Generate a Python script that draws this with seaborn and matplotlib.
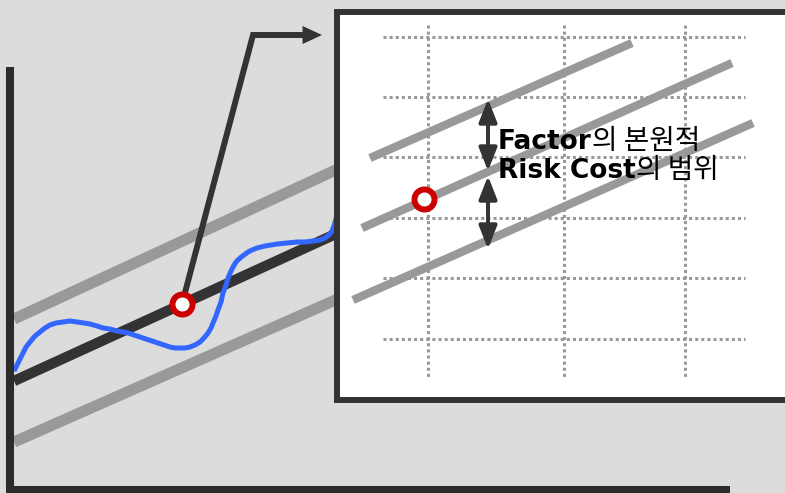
import matplotlib
matplotlib.use('Agg')
import matplotlib.pyplot as plt
from matplotlib.patches import Rectangle
import seaborn as sns
import pandas as pd
import numpy as np

sns.set_style("white")
plt.rcParams['font.family'] = ['DejaVu Sans', 'Noto Sans CJK KR']

# picture is laid out in pixel units, y going down
W, H = 785, 493
dark = '#333333'
gray = '#999999'
red = '#cc0000'
blue = '#3366ff'

blue_x = [14, 17, 20, 23, 26, 30, 35, 40, 45, 50, 56, 63, 70, 77, 84, 90, 97, 103, 110,
          117, 123, 128, 134, 140, 146, 152, 158, 164, 170, 175, 180, 185, 190, 195, 200,
          204, 208, 211, 213, 216, 218, 221, 223, 226, 228, 231, 233, 236, 240, 244, 248,
          252, 257, 265, 277, 287, 297, 305, 313, 320, 325, 329, 332, 334, 337]
blue_y = [371, 365, 359, 353, 347, 342, 336, 332, 328, 325, 323, 322, 321, 322, 323, 324, 326, 328, 329,
          331, 332, 333, 335, 337, 339, 341, 343, 345, 347, 348, 348, 348, 347, 345, 342,
          338, 333, 328, 323, 316, 310, 302, 293, 285, 278, 271, 267, 262, 258, 255, 252,
          250, 248, 246, 244, 243, 242, 242, 241, 240, 238, 235, 231, 226, 215]

# straight trend lines in the main panel: (x0, y0, x1, y1)
main_upper = (14, 319, 340, 168)
main_mid = (14, 381, 340, 232)
main_lower = (14, 442, 340, 298)
main_point = (182, 304)

# pointer from the point to the zoom box
pointer_x = [182, 253, 306]
pointer_y = [304, 35, 35]

# zoom box contents
zoom_upper = (370, 158, 632, 43)
zoom_mid = (362, 228, 732, 63)
zoom_lower = (353, 300, 753, 123)
zoom_point = (424, 199)
grid_rows = [37, 97, 157, 218, 278, 339]
grid_cols = [428, 564, 685]
arrow_x = 488
arrow_spans = [(99, 171), (176, 249)]

label_lines = [('Factor', '의 본원적', 149), ('Risk Cost', '의 범위', 178)]

fig = plt.figure(figsize=(W / 100, H / 100), dpi=100)
fig.patch.set_facecolor('#dcdcdc')
ax = fig.add_axes([0, 0, 1, 1])
ax.set_facecolor('#dcdcdc')

# main panel lines
for seg in (main_upper, main_lower):
    ax.plot([seg[0], seg[2]], [seg[1], seg[3]], color=gray, lw=8, solid_capstyle='butt', zorder=2)
ax.plot([main_mid[0], main_mid[2]], [main_mid[1], main_mid[3]], color=dark, lw=7.5,
        solid_capstyle='butt', zorder=3)

df = pd.DataFrame({'x': blue_x, 'y': blue_y})
sns.lineplot(data=df, x='x', y='y', sort=False, estimator=None, color=blue, lw=3.6, ax=ax, zorder=4)
ax.lines[-1].set_solid_joinstyle('round')
ax.lines[-1].set_solid_capstyle('butt')
ax.set_xlim(0, W)
ax.set_ylim(H, 0)
ax.axis('off')

# axes of the main panel
ax.plot([10, 10], [67, 495], color='#2b2b2b', lw=5.8, solid_capstyle='butt', zorder=6)
ax.plot([6, 730], [490, 490], color='#2b2b2b', lw=5.8, solid_capstyle='butt', zorder=6)

# pointer
ax.plot(pointer_x, pointer_y, color=dark, lw=4.3, solid_joinstyle='miter', solid_capstyle='butt', zorder=5)
ax.annotate('', xy=(322, 35), xytext=(302, 35),
            arrowprops=dict(arrowstyle='-|>,head_length=1.4,head_width=0.65', mutation_scale=10,
                            color=dark, lw=0, shrinkA=0, shrinkB=0), zorder=5)
ax.plot(*main_point, 'o', ms=14.4, mfc='white', mec=red, mew=4.3, zorder=7)

# zoom box
ax.add_patch(Rectangle((336.5, 12), 470, 388, facecolor='white', edgecolor=dark, lw=4.3, zorder=8))
for r in grid_rows:
    ax.plot([383, 745], [r, r], color=gray, lw=2.2, ls=(0, (1, 1)), zorder=9)
for c in grid_cols:
    ax.plot([c, c], [25, 378], color=gray, lw=2.2, ls=(0, (1, 1)), zorder=9)
for seg in (zoom_upper, zoom_mid, zoom_lower):
    ax.plot([seg[0], seg[2]], [seg[1], seg[3]], color=gray, lw=6, solid_capstyle='butt', zorder=10)
ax.plot(*zoom_point, 'o', ms=14.4, mfc='white', mec=red, mew=4.3, zorder=11)

for y0, y1 in arrow_spans:
    ax.annotate('', xy=(arrow_x, y1), xytext=(arrow_x, y0),
                arrowprops=dict(arrowstyle='<|-|>,head_length=1.4,head_width=0.55', mutation_scale=10,
                                color=dark, lw=2.8, shrinkA=0, shrinkB=0), zorder=12)

fig.canvas.draw()
inv = ax.transData.inverted()
for eng, kor, yb in label_lines:
    t = ax.text(498, yb, eng, fontsize=19, fontweight='bold', color='black',
                va='baseline', ha='left', family='DejaVu Sans', zorder=13)
    fig.canvas.draw()
    bb = t.get_window_extent()
    xe = inv.transform((bb.x1, bb.y0))[0]
    ax.text(xe, yb, kor, fontsize=20, color='black', va='baseline', ha='left',
            family=['Noto Sans CJK KR', 'DejaVu Sans'], zorder=13)

fig.savefig('out.png', dpi=100, facecolor=fig.get_facecolor())
